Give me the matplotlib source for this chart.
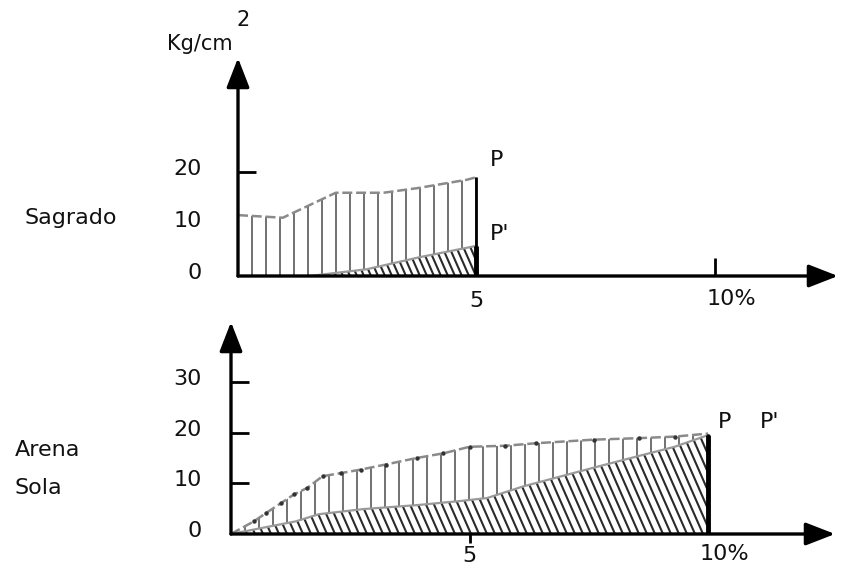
import numpy as np
import matplotlib
matplotlib.use('Agg')
import matplotlib.pyplot as plt
import matplotlib.transforms as mtransforms
from matplotlib.collections import LineCollection

# --- data (x in %, y in Kg/cm2) ---
sag_x = [0, 0.94, 2.05, 3.05, 3.77, 4.8, 5.0]
sag_p = [11.7, 11.2, 16.0, 16.0, 16.9, 18.5, 19.0]
sag_pp_x = [1.5, 2.7, 3.8, 5.0]
sag_pp = [0, 1.3, 3.6, 5.8]

arena_x = [0, 0.48, 0.73, 1.05, 1.32, 1.6, 1.92, 2.3, 2.72, 3.24, 3.9, 4.45,
           5.0, 5.75, 6.4, 7.6, 8.55, 9.3, 10.0]
arena_p = [0, 2.5, 4.1, 6.1, 7.8, 9.1, 11.4, 12.0, 12.7, 13.7, 15.0, 15.9,
           17.2, 17.4, 17.9, 18.6, 18.9, 19.2, 19.8]
arena_pp_x = [0, 1.36, 1.84, 2.76, 3.9, 4.8, 5.37, 6.13, 7.53, 8.47, 9.3, 10.0]
arena_pp = [0, 2.5, 3.9, 4.9, 5.7, 6.5, 7.1, 9.4, 12.9, 15.2, 17.2, 19.5]

x_ticks = [5, 10]
x_labels = ['5', '10%']
sag_yticks = [0, 10, 20]
arena_yticks = [0, 10, 20, 30]

W, H = 850, 580
plt.rcParams['font.family'] = 'DejaVu Sans'
fig = plt.figure(figsize=(W / 100, H / 100), dpi=100)


def px_box(x0, y0, x1, y1):
    return [x0 / W, 1 - y1 / H, (x1 - x0) / W, (y1 - y0) / H]


def offset(dx, dy):
    return mtransforms.ScaledTranslation(dx / 100, dy / 100, fig.dpi_scale_trans)


def hand_hatch(ax, poly, step_px, lean, color, lw):
    # hatch lines drawn by hand so spacing / angle follow the drawing
    x0, x1 = ax.get_xlim()
    y0, y1 = ax.get_ylim()
    sx = ax.bbox.width / (x1 - x0)
    sy = ax.bbox.height / (y1 - y0)
    shift = lean * y1 * sy / sx
    segs = [[(x, y1), (x + shift, 0)]
            for x in np.arange(-shift, x1, step_px / sx)]
    lc = LineCollection(segs, colors=color, linewidths=lw, zorder=2)
    ax.add_collection(lc, autolim=False)
    lc.set_clip_path(poly.get_paths()[0], ax.transData)


def panel(ax, xs, p, pp_x, pp, xmax, ymax, yticks, ymarks, xmarks, xdir,
          ypad, xpad, vstep, dstep):
    ax.set_xlim(0, xmax)
    ax.set_ylim(0, ymax)
    for s in ax.spines.values():
        s.set_visible(False)
    ax.patch.set_alpha(0)

    # P area (vertical hatching) then P' area (slanted) on top
    poly_p = ax.fill_between(xs, 0, p, facecolor='white', linewidth=0, zorder=1)
    hand_hatch(ax, poly_p, vstep, 0.0, '#666666', 1.3)
    ax.plot(xs, p, color='#8a8a8a', lw=1.8, ls=(0, (4, 1.5)), zorder=3)
    poly_pp = ax.fill_between(pp_x, 0, pp, facecolor='white', linewidth=0,
                              zorder=2.5)
    hand_hatch(ax, poly_pp, dstep, 0.44, '#2a2a2a', 1.5)
    ax.collections[-1].set_zorder(2.6)
    ax.plot(pp_x, pp, color='#9a9a9a', lw=1.6, zorder=3)
    ax.vlines(xs[-1], 0, p[-1], color='k', lw=2, zorder=4)
    ax.vlines(pp_x[-1], 0, pp[-1], color='k', lw=3.5, zorder=4)

    arrow = dict(arrowstyle='-|>,head_length=0.9,head_width=0.35', lw=2.4,
                 color='k', shrinkA=0, shrinkB=0, mutation_scale=20)
    ax.annotate('', xy=(1, 0), xytext=(0, 0), xycoords='axes fraction',
                arrowprops=arrow, annotation_clip=False, zorder=5)
    ax.annotate('', xy=(0, 1), xytext=(0, 0), xycoords='axes fraction',
                arrowprops=arrow, annotation_clip=False, zorder=5)

    ax.xaxis.remove_overlapping_locs = False
    ax.yaxis.remove_overlapping_locs = False
    ax.set_yticks(yticks, labels=[str(v) for v in yticks])
    ax.set_yticks(ymarks, minor=True)
    ax.set_xticks(x_ticks, labels=x_labels)
    ax.set_xticks(xmarks, minor=True)
    ax.tick_params(axis='y', which='major', length=0, pad=ypad,
                   labelsize=16, labelcolor='#111111')
    ax.tick_params(axis='y', which='minor', direction='in', length=13, width=2)
    ax.tick_params(axis='x', which='major', length=0, pad=xpad,
                   labelsize=16, labelcolor='#111111')
    ax.tick_params(axis='x', which='minor', direction=xdir, length=13, width=2)
    for lab in ax.get_yticklabels():
        lab.set_transform(lab.get_transform() + offset(0, 5))
    lab = ax.get_xticklabels()[-1]
    lab.set_transform(lab.get_transform() + offset(16, 2))


ax1 = fig.add_axes(px_box(238, 58, 838, 276))
panel(ax1, sag_x, sag_p, sag_pp_x, sag_pp, 12.58, 41.9,
      sag_yticks, [20], [10], 'in', 26, 11, 14, 7)

ax2 = fig.add_axes(px_box(231, 322, 835, 534))
panel(ax2, arena_x, arena_p, arena_pp_x, arena_pp, 12.66, 41.8,
      arena_yticks, [10, 20, 30], [5], 'inout', 21, 9, 14, 8)
ax2.plot(arena_x[1:-1], arena_p[1:-1], 'o', ms=2.2, color='#333333', zorder=3)


def ftext(x, y, s, **kw):
    kw.setdefault('fontsize', 16)
    kw.setdefault('va', 'center')
    kw.setdefault('ha', 'left')
    fig.text(x / W, 1 - y / H, s, color='#111111', **kw)


ftext(25, 218, 'Sagrado')
ftext(15, 450, 'Arena')
ftext(15, 488, 'Sola')
ftext(167, 44, 'Kg/cm', fontsize=15)
ftext(236, 20, '2', fontsize=15)
ftext(490, 160, 'P')
ftext(490, 234, "P'")
ftext(718, 422, 'P')
ftext(760, 422, "P'")

fig.savefig('out.png', dpi=100)
